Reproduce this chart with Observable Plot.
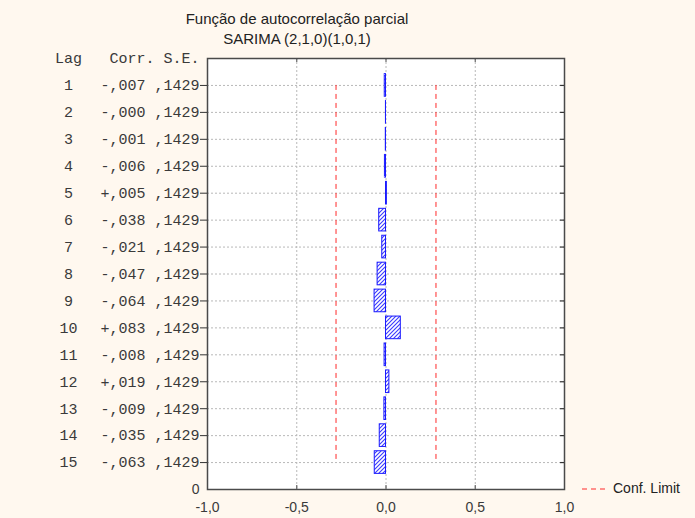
<!DOCTYPE html>
<html><head><meta charset="utf-8">
<script src="https://cdn.jsdelivr.net/npm/d3@7"></script>
<script src="https://cdn.jsdelivr.net/npm/@observablehq/plot@0.6"></script>
<style>
body{margin:0;background:#fff8ef;}
#wrap{position:relative;width:695px;height:518px;background:#fff8ef;font-family:"Liberation Sans",Arial,sans-serif;overflow:hidden;}
#wrap svg.plot{position:absolute;left:0;top:0;}
.title{position:absolute;left:0;width:594px;text-align:center;font-size:15px;line-height:17px;color:#222;white-space:nowrap;}
#legend{position:absolute;left:581px;top:479px;height:18px;font-size:14px;line-height:18px;color:#222;white-space:nowrap;}
#legend svg{vertical-align:middle;margin-right:7px;}
</style></head><body>
<div id="wrap">
<div class="title" style="top:10px">Função de autocorrelação parcial</div>
<div class="title" style="top:30px">SARIMA (2,1,0)(1,0,1)</div>
<div id="legend"><svg width="25" height="4"><line x1="1" x2="25" y1="2" y2="2" stroke="#ff2a2a" stroke-width="1" stroke-dasharray="5,4"/></svg>Conf. Limit</div>
</div>
<script>
const lags = [1,2,3,4,5,6,7,8,9,10,11,12,13,14,15];
const corr = [-0.007,-0.0003,-0.001,-0.006,0.005,-0.038,-0.021,-0.047,-0.064,0.083,-0.008,0.019,-0.009,-0.035,-0.063];
const corrLabels = ["-,007","-,000","-,001","-,006","+,005","-,038","-,021","-,047","-,064","+,083","-,008","+,019","-,009","-,035","-,063"];
const seLabels = [",1429",",1429",",1429",",1429",",1429",",1429",",1429",",1429",",1429",",1429",",1429",",1429",",1429",",1429",",1429"];
const confLimits = [-0.28, 0.28];
const xTicks = [-1, -0.5, 0, 0.5, 1];
const xGrid = [-0.5, 0, 0.5];

const rows = lags.map((lag, i) => ({lag, corr: corr[i], corrLabel: corrLabels[i], seLabel: seLabels[i]}));
const mono = "Liberation Mono, Courier New, monospace";
const txt = "#3a3a3a";
const noText = () => "";

const chart = Plot.plot({
  width: 695,
  height: 518,
  marginLeft: 207,
  marginRight: 131,
  marginTop: 58,
  marginBottom: 29,
  style: {fontFamily: "Liberation Sans, Arial, sans-serif", background: "transparent", overflow: "visible"},
  x: {domain: [-1, 1]},
  y: {domain: [0, 16], reverse: true},
  marks: [
    Plot.frame({fill: "white", stroke: null}),
    Plot.gridX(xGrid, {stroke: "#b8b8b8", strokeOpacity: 1, strokeDasharray: "2,2"}),
    Plot.gridY(lags, {stroke: "#b8b8b8", strokeOpacity: 1, strokeDasharray: "2,2"}),
    Plot.ruleX(confLimits, {y1: 1, y2: 15, stroke: "#ff2a2a", strokeWidth: 1, strokeDasharray: "5,4"}),
    Plot.rectX(rows, {x1: 0, x2: "corr", y1: d => d.lag - 0.42, y2: d => d.lag + 0.42, fill: "url(#hatch)", stroke: "#1a1aff", strokeWidth: 1}),
    Plot.ruleY(lags, {x1: 0.978, x2: 1, stroke: "#333", strokeWidth: 1.2}),
    Plot.ruleX(xGrid, {y1: 0, y2: 0.15, stroke: "#666", strokeWidth: 1.2}),
    Plot.ruleX(xGrid, {y1: 15.85, y2: 16, stroke: "#666", strokeWidth: 1.2}),
    Plot.frame({stroke: "#4a4a4a", strokeWidth: 1.5}),
    Plot.axisY(lags, {anchor: "left", tickSize: 7, stroke: "#333", tickFormat: noText, label: null}),
    Plot.axisX(xTicks, {anchor: "bottom", tickSize: 0, tickPadding: 13, fontSize: 14, fill: txt, label: null,
      tickFormat: d => d.toFixed(1).replace(".", ",")}),
    Plot.axisY([16], {anchor: "left", tickSize: 0, tickPadding: 8, fontSize: 14, fill: txt, label: null, tickFormat: () => "0"}),
    Plot.text(rows, {y: "lag", text: "seLabel", frameAnchor: "left", textAnchor: "end", dx: -8, fontFamily: mono, fontSize: 15, fill: txt}),
    Plot.text(rows, {y: "lag", text: "corrLabel", frameAnchor: "left", textAnchor: "start", dx: -107, fontFamily: mono, fontSize: 15, fill: txt}),
    Plot.text(rows, {y: "lag", text: d => String(d.lag), frameAnchor: "left", textAnchor: "middle", dx: -139, fontFamily: mono, fontSize: 15, fill: txt}),
    Plot.text(["Corr. S.E."], {y: () => 0, text: d => d, frameAnchor: "left", textAnchor: "end", dx: -8, fontFamily: mono, fontSize: 15, fill: txt}),
    Plot.text(["Lag"], {y: () => 0, text: d => d, frameAnchor: "left", textAnchor: "middle", dx: -139, fontFamily: mono, fontSize: 15, fill: txt})
  ]
});
chart.classList.add("plot");
const defs = d3.select(chart).insert("defs", ":first-child");
const pat = defs.append("pattern").attr("id", "hatch").attr("patternUnits", "userSpaceOnUse").attr("width", 4).attr("height", 4);
pat.append("rect").attr("width", 4).attr("height", 4).attr("fill", "white");
pat.append("path").attr("d", "M0,4 L4,0 M-1,1 L1,-1 M3,5 L5,3").attr("stroke", "#3a3aff").attr("stroke-width", 1.1);
document.getElementById("wrap").prepend(chart);
</script>
</body></html>
